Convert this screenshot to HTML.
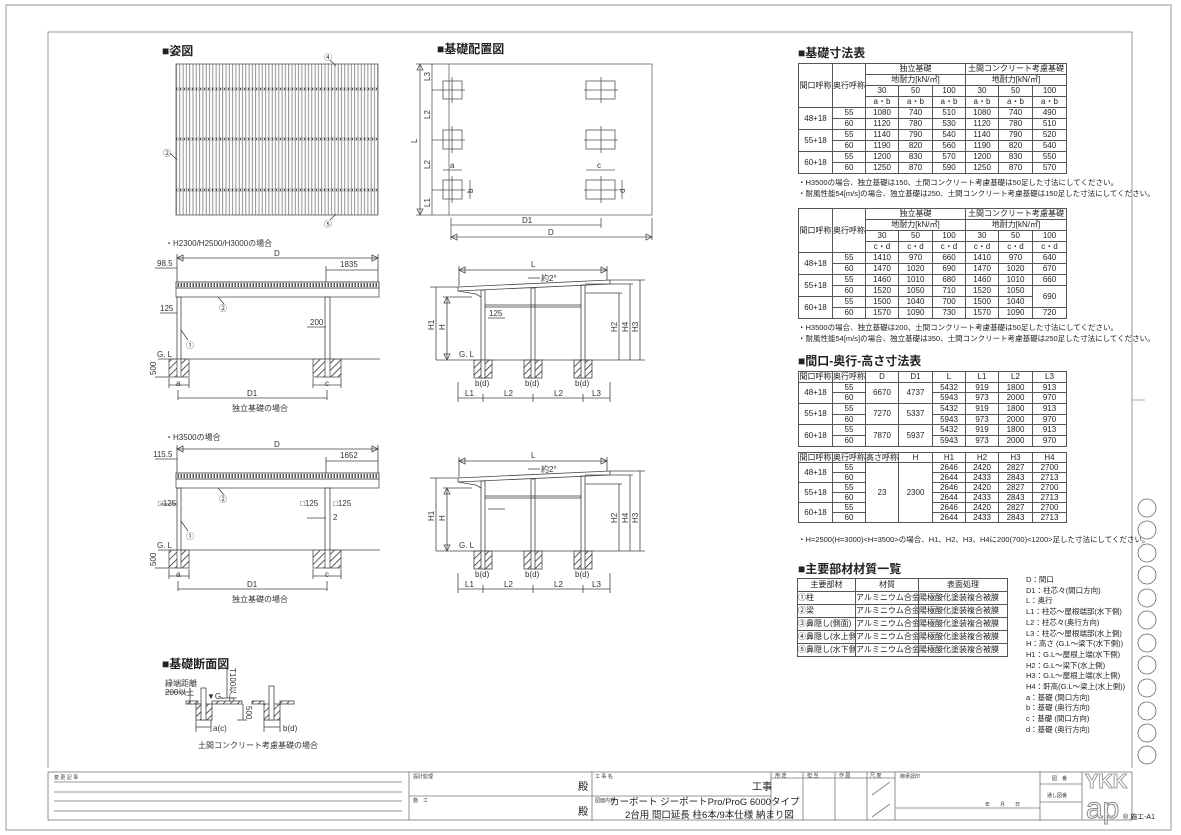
<!DOCTYPE html>
<html><head><meta charset="utf-8">
<style>
*{margin:0;padding:0;box-sizing:border-box}
body{width:1181px;height:835px;background:#fff;position:relative;overflow:hidden;font-family:"Liberation Sans","Noto Sans CJK JP",sans-serif;color:#222}
svg{position:absolute;left:0;top:0}
table{position:absolute;border-collapse:collapse;table-layout:fixed;font-size:8px;line-height:1}
td{border:1px solid #555;text-align:center;padding:0;white-space:nowrap;overflow:hidden;font-family:"Liberation Sans","Noto Sans CJK JP",sans-serif}
.h{position:absolute;font-size:12px;font-weight:bold;white-space:nowrap}
.n{position:absolute;font-size:7.5px;white-space:nowrap}
.lg{position:absolute;left:1026px;top:575px;font-size:7.5px;line-height:10.7px;white-space:nowrap}
</style></head><body>
<svg width="1181" height="835" viewBox="0 0 1181 835" font-family="Liberation Sans, Noto Sans CJK JP, sans-serif" fill="none" stroke="#444" stroke-width="0.8">
<defs>
<pattern id="st" width="3.3" height="10" patternUnits="userSpaceOnUse"><line x1="1.6" y1="0" x2="1.6" y2="10" stroke="#777" stroke-width="0.8"/></pattern>
<pattern id="ht" width="5" height="5" patternUnits="userSpaceOnUse" patternTransform="rotate(45)"><line x1="0" y1="0" x2="0" y2="5" stroke="#333" stroke-width="1.6"/></pattern>
<pattern id="dt" width="3" height="6" patternUnits="userSpaceOnUse"><rect x="0.5" y="1" width="1.5" height="4" fill="#555" stroke="none"/></pattern>
</defs>
<rect x="6" y="5" width="1165" height="825" stroke="#999" stroke-width="1"/>
<polyline points="48,768 48,32 1132,32 1132,768" stroke="#999" stroke-width="1"/>
<line x1="1132" y1="400" x2="1145" y2="400" stroke="#999"/>
<g stroke="#666">
<circle cx="1147" cy="508" r="9"/><circle cx="1147" cy="530" r="9"/><circle cx="1147" cy="553" r="9"/><circle cx="1147" cy="575" r="9"/><circle cx="1147" cy="598" r="9"/><circle cx="1147" cy="620" r="9"/><circle cx="1147" cy="643" r="9"/><circle cx="1147" cy="665" r="9"/><circle cx="1147" cy="688" r="9"/><circle cx="1147" cy="711" r="9"/><circle cx="1147" cy="733" r="9"/><circle cx="1147" cy="755" r="9"/>
</g>

<rect x="176" y="64" width="202" height="151" fill="url(#st)" stroke="#555"/>
<g stroke="#666" stroke-width="0.6"><line x1="176" y1="88" x2="378" y2="88"/><line x1="176" y1="90" x2="378" y2="90"/><line x1="176" y1="138" x2="378" y2="138"/><line x1="176" y1="140" x2="378" y2="140"/><line x1="176" y1="189" x2="378" y2="189"/><line x1="176" y1="191" x2="378" y2="191"/></g>
<g stroke="#222" stroke-dasharray="1,3" stroke-width="1.2"><line x1="176" y1="89" x2="378" y2="89"/><line x1="176" y1="139" x2="378" y2="139"/><line x1="176" y1="190" x2="378" y2="190"/></g>
<line x1="177" y1="160" x2="170" y2="153"/><line x1="330" y1="60" x2="336" y2="66"/><line x1="330" y1="220" x2="336" y2="214"/>
<g fill="#333" stroke="none" font-size="8"><text x="163" y="156">②</text><text x="324" y="60">④</text><text x="324" y="227">⑤</text></g>

<rect x="449" y="64" width="203" height="151" stroke="#666"/>
<g stroke="#555">
<rect x="443" y="81" width="19" height="18"/><rect x="443" y="130" width="19" height="19"/><rect x="443" y="180" width="19" height="19"/>
<rect x="586" y="81" width="29" height="18"/><rect x="586" y="130" width="29" height="19"/><rect x="586" y="180" width="29" height="19"/>
<line x1="432" y1="90" x2="465" y2="90"/><line x1="452" y1="77" x2="452" y2="103"/>
<line x1="432" y1="140" x2="465" y2="140"/><line x1="452" y1="126" x2="452" y2="153"/>
<line x1="432" y1="190" x2="465" y2="190"/><line x1="452" y1="176" x2="452" y2="203"/>
<line x1="584" y1="90" x2="618" y2="90"/><line x1="601" y1="77" x2="601" y2="103"/>
<line x1="584" y1="140" x2="618" y2="140"/><line x1="601" y1="126" x2="601" y2="153"/>
<line x1="584" y1="190" x2="618" y2="190"/><line x1="601" y1="176" x2="601" y2="203"/>
<line x1="420" y1="64" x2="420" y2="215"/><polygon points="420,64 417,70 423,70"/><polygon points="420,215 417,209 423,209"/>
<line x1="432" y1="64" x2="432" y2="215"/><line x1="416" y1="64" x2="449" y2="64"/><line x1="416" y1="215" x2="449" y2="215"/>
<line x1="443" y1="170" x2="462" y2="170"/><line x1="586" y1="170" x2="615" y2="170"/>
<line x1="470" y1="180" x2="470" y2="199"/><line x1="622" y1="180" x2="622" y2="199"/>
<line x1="451" y1="225" x2="601" y2="225"/><line x1="451" y1="218" x2="451" y2="240"/><line x1="601" y1="218" x2="601" y2="228"/><line x1="652" y1="218" x2="652" y2="240"/>
<line x1="451" y1="237" x2="652" y2="237"/><polygon points="451,237 457,234 457,240"/><polygon points="652,237 646,234 646,240"/>
</g>
<g fill="#333" stroke="none" font-size="8">
<text x="450" y="168">a</text><text x="597" y="168">c</text>
<text transform="translate(473,193) rotate(-90)">b</text><text transform="translate(625,193) rotate(-90)">d</text>
<text x="522" y="223">D1</text><text x="548" y="235">D</text>
<text transform="translate(417,143) rotate(-90)">L</text>
<text transform="translate(430,81) rotate(-90)">L3</text><text transform="translate(430,119) rotate(-90)">L2</text><text transform="translate(430,169) rotate(-90)">L2</text><text transform="translate(430,207) rotate(-90)">L1</text>
</g>

<g id="elA">
<line x1="177" y1="258" x2="378" y2="258"/><polygon points="177,258 183,255 183,261"/><polygon points="378,258 372,255 372,261"/>
<line x1="177" y1="254" x2="177" y2="282"/><line x1="378" y1="254" x2="378" y2="282"/>
<line x1="155" y1="268" x2="177" y2="268"/>
<line x1="326" y1="270" x2="378" y2="270"/><line x1="326" y1="266" x2="326" y2="282"/>
<rect x="176" y="282" width="203" height="6" fill="url(#dt)" stroke="#333"/>
<rect x="176" y="288" width="203" height="9" stroke="#555"/>
<rect x="177" y="297" width="4" height="62" stroke="#444"/>
<rect x="325" y="297" width="5" height="62" stroke="#444"/>
<line x1="218" y1="297" x2="224" y2="304"/>
<line x1="160" y1="313" x2="177" y2="313"/><line x1="307" y1="327" x2="326" y2="327"/>
<line x1="181" y1="330" x2="188" y2="340"/>
<line x1="158" y1="359" x2="380" y2="359"/>
<rect x="169" y="359" width="20" height="18" fill="url(#ht)" stroke="#555"/>
<rect x="313" y="359" width="28" height="18" fill="url(#ht)" stroke="#555"/>
<rect x="177" y="359" width="4" height="18" fill="#fff" stroke="#555"/>
<rect x="325" y="359" width="5" height="18" fill="#fff" stroke="#555"/>
<line x1="155" y1="377" x2="169" y2="377"/>
<line x1="169" y1="385" x2="189" y2="385"/><line x1="169" y1="378" x2="169" y2="388"/><line x1="189" y1="378" x2="189" y2="388"/>
<line x1="313" y1="385" x2="341" y2="385"/><line x1="313" y1="378" x2="313" y2="388"/><line x1="341" y1="378" x2="341" y2="388"/>
<line x1="178" y1="398" x2="327" y2="398"/><line x1="178" y1="390" x2="178" y2="400"/><line x1="327" y1="390" x2="327" y2="400"/>
<line x1="459" y1="270" x2="607" y2="270"/><polygon points="459,270 465,267 465,273"/><polygon points="607,270 601,267 601,273"/>
<line x1="459" y1="266" x2="459" y2="286"/><line x1="607" y1="266" x2="607" y2="280"/>
<line x1="528" y1="278" x2="540" y2="278"/>
<polygon points="458,287 610,280 610,284 458,291"/>
<polyline points="458,291 476,294 481,297"/>
<rect x="481" y="290" width="4" height="70"/><rect x="531" y="288" width="4" height="72"/><rect x="581" y="285" width="4" height="75"/>
<rect x="485" y="305" width="96" height="2"/>
<line x1="488" y1="318" x2="505" y2="318"/>
<line x1="430" y1="287" x2="458" y2="287"/><line x1="436" y1="287" x2="436" y2="360"/>
<line x1="447" y1="297" x2="447" y2="360"/><polygon points="447,297 444,303 450,303"/><polygon points="447,360 444,354 450,354"/><line x1="443" y1="297" x2="472" y2="297"/>
<line x1="436" y1="360" x2="645" y2="360"/>
<rect x="474" y="360" width="18" height="18" fill="url(#ht)"/><rect x="524" y="360" width="18" height="18" fill="url(#ht)"/><rect x="574" y="360" width="18" height="18" fill="url(#ht)"/>
<rect x="481" y="360" width="4" height="18" fill="#fff"/><rect x="531" y="360" width="4" height="18" fill="#fff"/><rect x="581" y="360" width="4" height="18" fill="#fff"/>
<line x1="458" y1="382" x2="458" y2="402"/><line x1="610" y1="382" x2="610" y2="402"/>
<line x1="458" y1="398" x2="610" y2="398"/><line x1="483" y1="394" x2="483" y2="402"/><line x1="533" y1="394" x2="533" y2="402"/><line x1="583" y1="394" x2="583" y2="402"/>
<line x1="610" y1="280" x2="645" y2="280"/><line x1="585" y1="293" x2="622" y2="293"/><line x1="585" y1="284" x2="633" y2="284"/>
<line x1="619" y1="293" x2="619" y2="360"/><line x1="630" y1="284" x2="630" y2="360"/><line x1="640" y1="280" x2="640" y2="360"/>
</g>
<use href="#elA" transform="translate(0,191)"/>
<g fill="#333" stroke="none" font-size="8">
<text x="165" y="246">・H2300/H2500/H3000の場合</text>
<text x="274" y="256">D</text><text x="157" y="266">98.5</text><text x="340" y="267">1835</text>
<text x="219" y="311">②</text><text x="160" y="311">125</text><text x="310" y="325">200</text><text x="186" y="348">①</text>
<text x="157" y="357">G. L</text><text transform="translate(156,375) rotate(-90)">500</text>
<text x="176" y="386">a</text><text x="325" y="386">c</text><text x="247" y="396">D1</text>
<text x="232" y="411" font-size="8">独立基礎の場合</text>
<text x="531" y="267">L</text><text x="541" y="281">約2°</text>
<text x="489" y="316">125</text><text x="459" y="357">G. L</text>
<text transform="translate(434,330) rotate(-90)">H1</text><text transform="translate(445,330) rotate(-90)">H</text>
<text transform="translate(617,332) rotate(-90)">H2</text><text transform="translate(628,332) rotate(-90)">H4</text><text transform="translate(638,332) rotate(-90)">H3</text>
<text x="475" y="386">b(d)</text><text x="525" y="386">b(d)</text><text x="575" y="386">b(d)</text>
<text x="465" y="396">L1</text><text x="504" y="396">L2</text><text x="554" y="396">L2</text><text x="592" y="396">L3</text>
<text x="165" y="440">・H3500の場合</text>
<text x="274" y="447">D</text><text x="153" y="457">115.5</text><text x="340" y="458">1652</text>
<text x="219" y="502">②</text><text x="158" y="506">□125</text><text x="300" y="506">□125</text><text x="333" y="506">□125</text><text x="333" y="520">2</text><text x="186" y="539">①</text>
<text x="157" y="548">G. L</text><text transform="translate(156,566) rotate(-90)">500</text>
<text x="176" y="577">a</text><text x="325" y="577">c</text><text x="247" y="587">D1</text>
<text x="232" y="602">独立基礎の場合</text>
<text x="531" y="458">L</text><text x="541" y="472">約2°</text><text x="459" y="548">G. L</text>
<text transform="translate(434,521) rotate(-90)">H1</text><text transform="translate(445,521) rotate(-90)">H</text>
<text transform="translate(617,523) rotate(-90)">H2</text><text transform="translate(628,523) rotate(-90)">H4</text><text transform="translate(638,523) rotate(-90)">H3</text>
<text x="475" y="577">b(d)</text><text x="525" y="577">b(d)</text><text x="575" y="577">b(d)</text>
<text x="465" y="587">L1</text><text x="504" y="587">L2</text><text x="554" y="587">L2</text><text x="592" y="587">L3</text>
</g>

<g stroke="#444">
<line x1="165" y1="692" x2="190" y2="692"/><line x1="190" y1="688" x2="190" y2="704"/>
<line x1="227" y1="668" x2="227" y2="698"/><line x1="220" y1="698" x2="235" y2="698"/>
<rect x="186" y="701" width="12" height="3" fill="url(#ht)"/><rect x="212" y="701" width="30" height="3" fill="url(#ht)"/>
<rect x="196" y="704" width="16" height="16" fill="url(#ht)"/><rect x="201" y="688" width="5" height="32" fill="#fff"/>
<line x1="196" y1="720" x2="196" y2="732"/><line x1="211" y1="720" x2="211" y2="732"/><line x1="196" y1="727" x2="211" y2="727"/>
<line x1="237" y1="720" x2="247" y2="720"/><line x1="243" y1="704" x2="243" y2="720"/>
<rect x="252" y="701" width="12" height="3" fill="url(#ht)"/><rect x="280" y="701" width="14" height="3" fill="url(#ht)"/>
<rect x="264" y="704" width="16" height="16" fill="url(#ht)"/><rect x="269" y="686" width="5" height="34" fill="#fff"/>
<line x1="264" y1="720" x2="264" y2="732"/><line x1="280" y1="720" x2="280" y2="732"/><line x1="264" y1="727" x2="280" y2="727"/>
</g>
<g fill="#333" stroke="none" font-size="8">
<text x="165" y="686">縁端距離</text><text x="165" y="695">200以上</text>
<text transform="translate(230,668) rotate(90)">T100以上</text>
<text x="207" y="699">▼G.</text><text transform="translate(246,706) rotate(90)">500</text>
<text x="213" y="731">a(c)</text><text x="283" y="731">b(d)</text>
<text x="198" y="748">土間コンクリート考慮基礎の場合</text>
</g>

<g stroke="#777">
<rect x="48" y="772" width="1084" height="48"/>
<line x1="409" y1="772" x2="409" y2="820"/><line x1="592" y1="772" x2="592" y2="820"/><line x1="771" y1="772" x2="771" y2="820"/>
<line x1="409" y1="796" x2="771" y2="796"/>
<line x1="803" y1="772" x2="803" y2="820"/><line x1="835" y1="772" x2="835" y2="820"/><line x1="867" y1="772" x2="867" y2="820"/><line x1="895" y1="772" x2="895" y2="820"/><line x1="1040" y1="772" x2="1040" y2="820"/><line x1="1082" y1="772" x2="1082" y2="820"/>
<line x1="1040" y1="784" x2="1082" y2="784"/><line x1="1040" y1="802" x2="1082" y2="802"/>
<line x1="771" y1="778" x2="895" y2="778"/>
<line x1="895" y1="808" x2="1040" y2="808"/>
<line x1="872" y1="795" x2="890" y2="782"/><line x1="872" y1="817" x2="890" y2="804"/>
<line x1="54" y1="782" x2="402" y2="782"/><line x1="54" y1="792" x2="402" y2="792"/><line x1="54" y1="801" x2="402" y2="801"/><line x1="54" y1="811" x2="402" y2="811"/>
</g>
<g fill="#333" stroke="none" font-size="5">
<text x="54" y="779">変 更 記 事</text><text x="413" y="778">設計監理</text><text x="413" y="802">施　工</text>
<text x="595" y="778">工 事 名</text><text x="595" y="802">図面内容</text>
<text x="775" y="777">用 途</text><text x="807" y="777">担 当</text><text x="839" y="777">作 図</text><text x="870" y="777">尺 度</text>
<text x="900" y="778">御承認印</text><text x="1052" y="780">図　番</text><text x="1047" y="797">通し図番</text>
<text x="985" y="806">年　　月　　日</text>
</g>
<g fill="#222" stroke="none" font-size="10">
<text x="578" y="790">殿</text><text x="578" y="815">殿</text><text x="752" y="790">工事</text>
<text x="610" y="805" font-size="9.5">カーボート ジーポートPro/ProG 6000タイプ</text>
<text x="625" y="818" font-size="9.5">2台用 間口延長 柱6本/9本仕様 納まり図</text>
</g>
<g fill="none" stroke="#888" stroke-width="1.2" font-family="Liberation Sans, sans-serif">
<text x="1085" y="788" font-size="20" font-weight="bold" stroke-width="0.8">YKK</text>
<text x="1086" y="818" font-size="30" stroke-width="1">ap</text>
</g>
<text x="1123" y="819" font-size="7" fill="#222" stroke="none">® 施エ-A1</text>
</svg>

<div class="h" style="left:162px;top:42px">■姿図</div>
<div class="h" style="left:437px;top:40px">■基礎配置図</div>
<div class="h" style="left:162px;top:655px">■基礎断面図</div>
<div class="h" style="left:798px;top:44px">■基礎寸法表</div>
<div class="h" style="left:798px;top:352px">■間口-奥行-高さ寸法表</div>
<div class="h" style="left:798px;top:560px">■主要部材材質一覧</div>

<table style="left:798px;top:63px;width:268px">
<colgroup><col style="width:34px"><col style="width:33px"><col style="width:33px"><col style="width:34px"><col style="width:33px"><col style="width:33px"><col style="width:34px"><col style="width:34px"></colgroup>
<tr style="height:11px"><td rowspan="4">間口呼称</td><td rowspan="4">奥行呼称</td><td colspan="3">独立基礎</td><td colspan="3">土間コンクリート考慮基礎</td></tr>
<tr style="height:11px"><td colspan="3">地耐力[kN/㎡]</td><td colspan="3">地耐力[kN/㎡]</td></tr>
<tr style="height:11px"><td>30</td><td>50</td><td>100</td><td>30</td><td>50</td><td>100</td></tr>
<tr style="height:11px"><td>a・b</td><td>a・b</td><td>a・b</td><td>a・b</td><td>a・b</td><td>a・b</td></tr>
<tr style="height:11px"><td rowspan="2">48+18</td><td>55</td><td>1080</td><td>740</td><td>510</td><td>1080</td><td>740</td><td>490</td></tr>
<tr style="height:11px"><td>60</td><td>1120</td><td>780</td><td>530</td><td>1120</td><td>780</td><td>510</td></tr>
<tr style="height:11px"><td rowspan="2">55+18</td><td>55</td><td>1140</td><td>790</td><td>540</td><td>1140</td><td>790</td><td>520</td></tr>
<tr style="height:11px"><td>60</td><td>1190</td><td>820</td><td>560</td><td>1190</td><td>820</td><td>540</td></tr>
<tr style="height:11px"><td rowspan="2">60+18</td><td>55</td><td>1200</td><td>830</td><td>570</td><td>1200</td><td>830</td><td>550</td></tr>
<tr style="height:11px"><td>60</td><td>1250</td><td>870</td><td>590</td><td>1250</td><td>870</td><td>570</td></tr>
</table>
<div class="n" style="left:798px;top:177px">・H3500の場合、独立基礎は150、土間コンクリート考慮基礎は50足した寸法にしてください。</div>
<div class="n" style="left:798px;top:188px">・耐風性能54[m/s]の場合、独立基礎は250、土間コンクリート考慮基礎は150足した寸法にしてください。</div>

<table style="left:798px;top:208px;width:268px">
<colgroup><col style="width:34px"><col style="width:33px"><col style="width:33px"><col style="width:34px"><col style="width:33px"><col style="width:33px"><col style="width:34px"><col style="width:34px"></colgroup>
<tr style="height:11px"><td rowspan="4">間口呼称</td><td rowspan="4">奥行呼称</td><td colspan="3">独立基礎</td><td colspan="3">土間コンクリート考慮基礎</td></tr>
<tr style="height:11px"><td colspan="3">地耐力[kN/㎡]</td><td colspan="3">地耐力[kN/㎡]</td></tr>
<tr style="height:11px"><td>30</td><td>50</td><td>100</td><td>30</td><td>50</td><td>100</td></tr>
<tr style="height:11px"><td>c・d</td><td>c・d</td><td>c・d</td><td>c・d</td><td>c・d</td><td>c・d</td></tr>
<tr style="height:11px"><td rowspan="2">48+18</td><td>55</td><td>1410</td><td>970</td><td>660</td><td>1410</td><td>970</td><td>640</td></tr>
<tr style="height:11px"><td>60</td><td>1470</td><td>1020</td><td>690</td><td>1470</td><td>1020</td><td>670</td></tr>
<tr style="height:11px"><td rowspan="2">55+18</td><td>55</td><td>1460</td><td>1010</td><td>680</td><td>1460</td><td>1010</td><td>660</td></tr>
<tr style="height:11px"><td>60</td><td>1520</td><td>1050</td><td>710</td><td>1520</td><td>1050</td><td rowspan="2">690</td></tr>
<tr style="height:11px"><td rowspan="2">60+18</td><td>55</td><td>1500</td><td>1040</td><td>700</td><td>1500</td><td>1040</td></tr>
<tr style="height:11px"><td>60</td><td>1570</td><td>1090</td><td>730</td><td>1570</td><td>1090</td><td>720</td></tr>
</table>
<div class="n" style="left:798px;top:322px">・H3500の場合、独立基礎は200、土間コンクリート考慮基礎は50足した寸法にしてください。</div>
<div class="n" style="left:798px;top:333px">・耐風性能54[m/s]の場合、独立基礎は350、土間コンクリート考慮基礎は250足した寸法にしてください。</div>

<table style="left:798px;top:371px;width:268px">
<colgroup><col style="width:34px"><col style="width:33px"><col style="width:33px"><col style="width:34px"><col style="width:33px"><col style="width:33px"><col style="width:34px"><col style="width:34px"></colgroup>
<tr style="height:10.7px"><td>間口呼称</td><td>奥行呼称</td><td>D</td><td>D1</td><td>L</td><td>L1</td><td>L2</td><td>L3</td></tr>
<tr style="height:10.7px"><td rowspan="2">48+18</td><td>55</td><td rowspan="2">6670</td><td rowspan="2">4737</td><td>5432</td><td>919</td><td>1800</td><td>913</td></tr>
<tr style="height:10.7px"><td>60</td><td>5943</td><td>973</td><td>2000</td><td>970</td></tr>
<tr style="height:10.7px"><td rowspan="2">55+18</td><td>55</td><td rowspan="2">7270</td><td rowspan="2">5337</td><td>5432</td><td>919</td><td>1800</td><td>913</td></tr>
<tr style="height:10.7px"><td>60</td><td>5943</td><td>973</td><td>2000</td><td>970</td></tr>
<tr style="height:10.7px"><td rowspan="2">60+18</td><td>55</td><td rowspan="2">7870</td><td rowspan="2">5937</td><td>5432</td><td>919</td><td>1800</td><td>913</td></tr>
<tr style="height:10.7px"><td>60</td><td>5943</td><td>973</td><td>2000</td><td>970</td></tr>
</table>

<table style="left:798px;top:452px;width:268px">
<colgroup><col style="width:34px"><col style="width:33px"><col style="width:33px"><col style="width:34px"><col style="width:33px"><col style="width:33px"><col style="width:34px"><col style="width:34px"></colgroup>
<tr style="height:10px"><td>間口呼称</td><td>奥行呼称</td><td>高さ呼称</td><td>H</td><td>H1</td><td>H2</td><td>H3</td><td>H4</td></tr>
<tr style="height:10px"><td rowspan="2">48+18</td><td>55</td><td rowspan="6">23</td><td rowspan="6">2300</td><td>2646</td><td>2420</td><td>2827</td><td>2700</td></tr>
<tr style="height:10px"><td>60</td><td>2644</td><td>2433</td><td>2843</td><td>2713</td></tr>
<tr style="height:10px"><td rowspan="2">55+18</td><td>55</td><td>2646</td><td>2420</td><td>2827</td><td>2700</td></tr>
<tr style="height:10px"><td>60</td><td>2644</td><td>2433</td><td>2843</td><td>2713</td></tr>
<tr style="height:10px"><td rowspan="2">60+18</td><td>55</td><td>2646</td><td>2420</td><td>2827</td><td>2700</td></tr>
<tr style="height:10px"><td>60</td><td>2644</td><td>2433</td><td>2843</td><td>2713</td></tr>
</table>
<div class="n" style="left:798px;top:534px">・H=2500(H=3000)&lt;H=3500&gt;の場合、H1、H2、H3、H4に200(700)&lt;1200&gt;足した寸法にしてください。</div>

<table style="left:797px;top:578px;width:210px">
<colgroup><col style="width:58px"><col style="width:63px"><col style="width:89px"></colgroup>
<tr style="height:13px"><td>主要部材</td><td>材質</td><td>表面処理</td></tr>
<tr style="height:13px"><td style="text-align:left">①柱</td><td style="text-align:left">アルミニウム合金 押出形材</td><td style="text-align:left">陽極酸化塗装複合被膜</td></tr>
<tr style="height:13px"><td style="text-align:left">②梁</td><td style="text-align:left">アルミニウム合金 押出形材</td><td style="text-align:left">陽極酸化塗装複合被膜</td></tr>
<tr style="height:13px"><td style="text-align:left">③鼻隠し(側面)</td><td style="text-align:left">アルミニウム合金 押出形材</td><td style="text-align:left">陽極酸化塗装複合被膜</td></tr>
<tr style="height:13px"><td style="text-align:left">④鼻隠し(水上側)</td><td style="text-align:left">アルミニウム合金 押出形材</td><td style="text-align:left">陽極酸化塗装複合被膜</td></tr>
<tr style="height:13px"><td style="text-align:left">⑤鼻隠し(水下側)</td><td style="text-align:left">アルミニウム合金 押出形材</td><td style="text-align:left">陽極酸化塗装複合被膜</td></tr>
</table>

<div class="lg">D：間口<br>D1：柱芯々(間口方向)<br>L：奥行<br>L1：柱芯～屋根端部(水下側)<br>L2：柱芯々(奥行方向)<br>L3：柱芯～屋根端部(水上側)<br>H：高さ (G.L～梁下(水下側))<br>H1：G.L～屋根上端(水下側)<br>H2：G.L～梁下(水上側)<br>H3：G.L～屋根上端(水上側)<br>H4：軒高(G.L～梁上(水上側))<br>a：基礎 (間口方向)<br>b：基礎 (奥行方向)<br>c：基礎 (間口方向)<br>d：基礎 (奥行方向)</div>
</body></html>
